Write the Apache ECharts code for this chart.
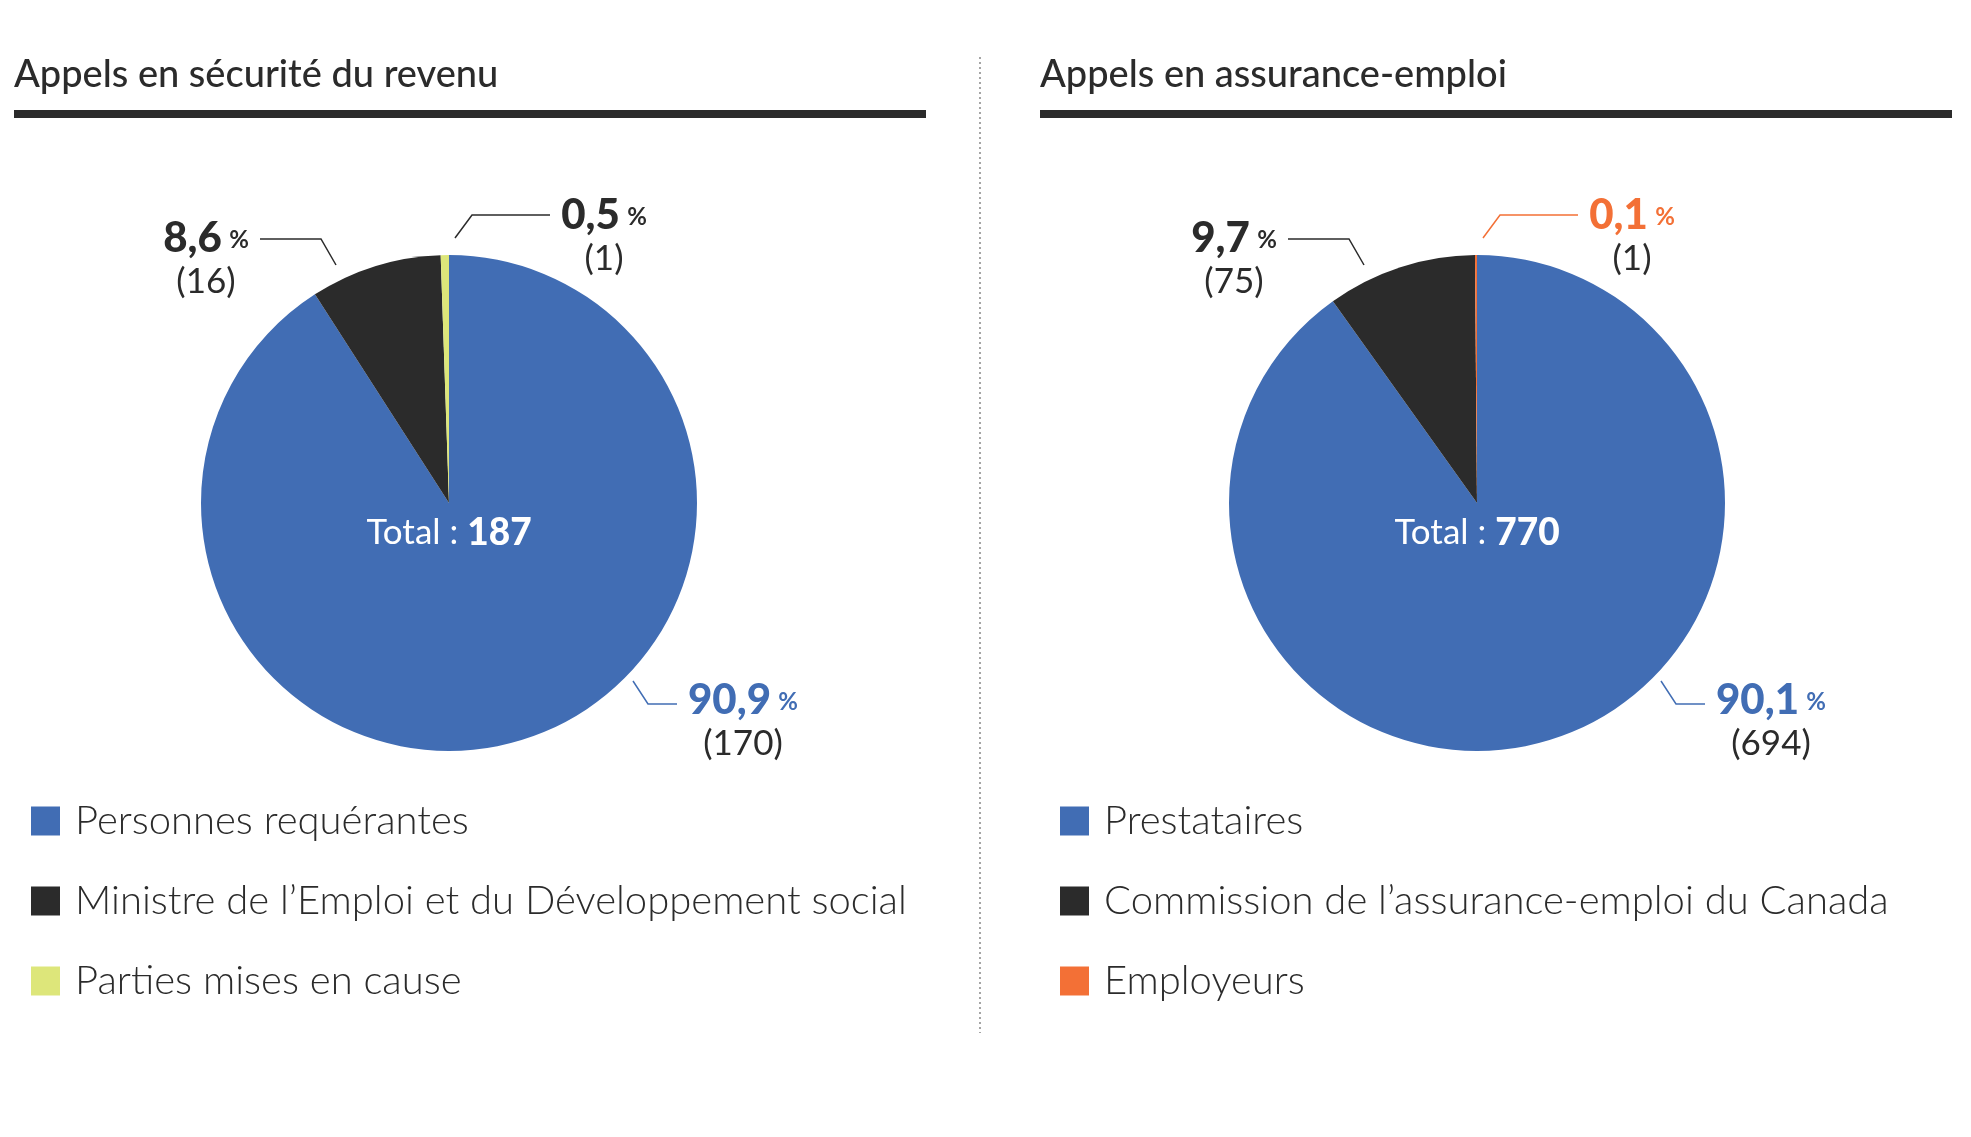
<!DOCTYPE html>
<html>
<head>
<meta charset="utf-8">
<script src="https://cdn.jsdelivr.net/npm/echarts@6/dist/echarts.min.js"></script>
<style>
  html, body { margin: 0; padding: 0; background: #fff; }
  #chart { width: 1971px; height: 1137px; }
</style>
</head>
<body>
<div id="chart"></div>
<script>
// data
const leftTitle = 'Appels en sécurité du revenu';
const leftCats = ['Personnes requérantes', 'Ministre de l\u2019Emploi et du Développement social', 'Parties mises en cause'];
const leftValues = [170, 16, 1];

const rightTitle = 'Appels en assurance-emploi';
const rightCats = ['Prestataires', 'Commission de l\u2019assurance-emploi du Canada', 'Employeurs'];
const rightValues = [694, 75, 1];

const leftColors = ['#416db4', '#2b2b2b', '#dde67a'];
const rightColors = ['#416db4', '#2b2b2b', '#f37036'];
const leftTextColors = ['#416db4', '#2b2b2b', '#2b2b2b'];
const rightTextColors = ['#416db4', '#2b2b2b', '#f37036'];

const FONT = 'Lato, "Open Sans", sans-serif';
const R = 248;
const centers = [[449, 503], [1477, 503]];

// label placement relative to the pie centre (line points + text block centre)
const labelSpots = [
  { line: [[184, 178], [199, 201], [228, 201]], text: [294, 219] },
  { line: [[-113, -238], [-128, -264], [-189, -264]], text: [-243, -243] },
  { line: [[6, -265], [23, -288], [101, -288]], text: [155, -266] }
];

function pct(v, arr) {
  let total = arr.reduce((a, b) => a + b, 0);
  return (v / total * 100).toFixed(1).replace('.', ',');
}

function makeRich(textColors) {
  let rich = {};
  textColors.forEach((c, i) => {
    rich['v' + i] = { fontFamily: FONT, fontWeight: 900, fontSize: 42, color: c, lineHeight: 43 };
    rich['p' + i] = { fontFamily: FONT, fontWeight: 700, fontSize: 24, color: c, lineHeight: 43, padding: [4, 0, 0, 4] };
  });
  rich.n = { fontFamily: FONT, fontWeight: 400, fontSize: 35, color: '#2b2b2b', lineHeight: 43 };
  return rich;
}

function makeSeries(idx, cats, values, colors, textColors, lineColors) {
  let c = centers[idx];
  return {
    type: 'pie',
    center: c,
    radius: [0, R],
    startAngle: 90,
    clockwise: true,
    silent: true,
    avoidLabelOverlap: false,
    itemStyle: { borderWidth: 0 },
    data: cats.map((name, i) => ({
      name: name,
      value: values[i],
      itemStyle: { color: colors[i] },
      labelLine: { lineStyle: { color: lineColors[i], width: 1.5 } }
    })),
    label: {
      show: true,
      position: 'outside',
      formatter: function (p) {
        let i = p.dataIndex;
        return '{v' + i + '|' + pct(values[i], values) + '} {p' + i + '|%}\n{n|(' + values[i] + ')}';
      },
      rich: makeRich(textColors)
    },
    labelLine: { show: true, smooth: false },
    labelLayout: function (params) {
      let s = labelSpots[params.dataIndex];
      return {
        x: c[0] + s.text[0],
        y: c[1] + s.text[1],
        align: 'center',
        verticalAlign: 'middle',
        labelLinePoints: s.line.map(pt => [c[0] + pt[0], c[1] + pt[1]])
      };
    }
  };
}

function totalText(idx, values) {
  let total = values.reduce((a, b) => a + b, 0);
  return {
    type: 'text',
    x: centers[idx][0],
    y: centers[idx][1] + 30,
    z: 100,
    silent: true,
    style: {
      text: '{a|Total : }{b|' + total + '}',
      align: 'center',
      verticalAlign: 'middle',
      rich: {
        a: { fontFamily: FONT, fontSize: 35, fontWeight: 400, fill: '#fff', color: '#fff' },
        b: { fontFamily: FONT, fontSize: 37, fontWeight: 900, fill: '#fff', color: '#fff' }
      }
    }
  };
}

let chart = echarts.init(document.getElementById('chart'));

let legendText = { fontFamily: FONT, fontWeight: 300, fontSize: 40, color: '#2b2b2b', lineHeight: 40, padding: [0, 0, 0, 10] };
let titleText = { fontFamily: FONT, fontWeight: 500, fontSize: 38, color: '#2b2b2b' };

let option = {
  backgroundColor: '#fff',
  animation: false,
  title: [
    { text: leftTitle, left: 9, top: 51, textStyle: titleText },
    { text: rightTitle, left: 1035, top: 51, textStyle: titleText }
  ],
  legend: [
    {
      orient: 'vertical', left: 26, top: 796, icon: 'rect', itemWidth: 29, itemHeight: 29, itemGap: 40,
      selectedMode: false, data: leftCats, textStyle: legendText
    },
    {
      orient: 'vertical', left: 1055, top: 796, icon: 'rect', itemWidth: 29, itemHeight: 29, itemGap: 40,
      selectedMode: false, data: rightCats, textStyle: legendText
    }
  ],
  graphic: [
    { type: 'rect', shape: { x: 14, y: 110, width: 912, height: 8 }, style: { fill: '#2b2b2b' }, silent: true },
    { type: 'rect', shape: { x: 1040, y: 110, width: 912, height: 8 }, style: { fill: '#2b2b2b' }, silent: true },
    { type: 'line', shape: { x1: 980, y1: 57, x2: 980, y2: 1033 }, style: { stroke: '#888', lineWidth: 1.5, lineDash: [2, 3] }, silent: true },
    totalText(0, leftValues),
    totalText(1, rightValues)
  ],
  series: [
    makeSeries(0, leftCats, leftValues, leftColors, leftTextColors, ['#416db4', '#2b2b2b', '#2b2b2b']),
    makeSeries(1, rightCats, rightValues, rightColors, rightTextColors, ['#416db4', '#2b2b2b', '#f37036'])
  ]
};

chart.setOption(option);
</script>
</body>
</html>
